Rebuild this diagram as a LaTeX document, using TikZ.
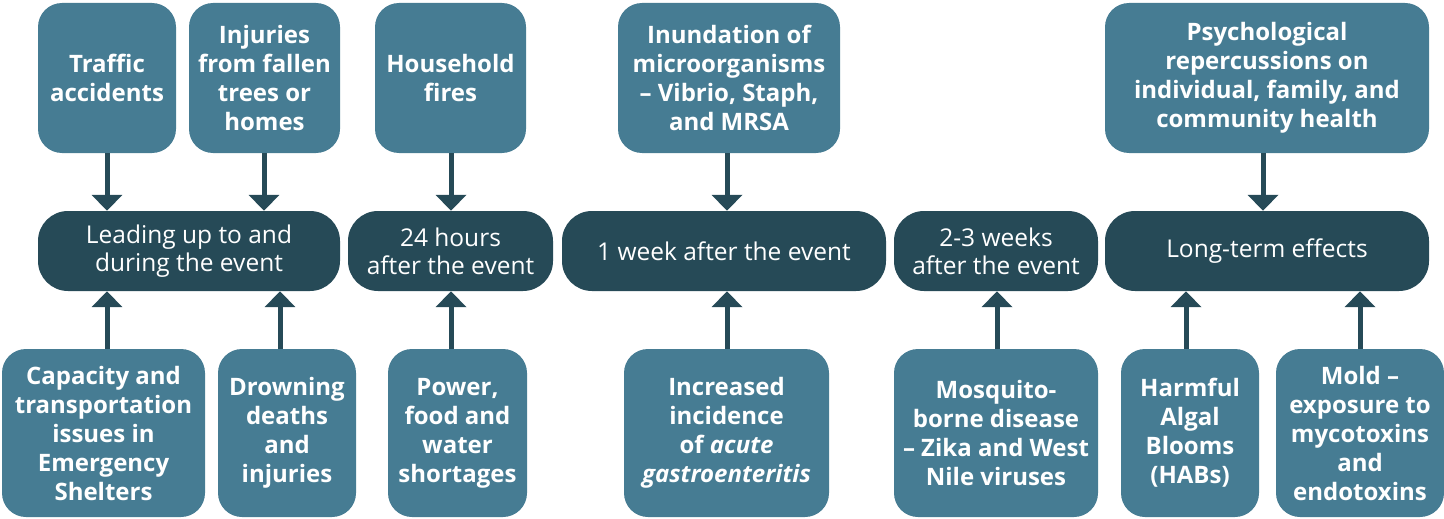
\documentclass[tikz,border=0pt]{standalone}
\usepackage{fontspec}
\setmainfont{Open Sans}
\usetikzlibrary{arrows.meta}
\definecolor{causefill}{RGB}{70,124,147}
\definecolor{phasefill}{RGB}{38,74,87}
\tikzset{
  cause/.style={fill=causefill, rounded corners=24pt, text=white, inner sep=0pt,
    align=center, font=\bfseries\fontsize{24}{29}\selectfont},
  phase/.style={fill=phasefill, rounded corners=30pt, text=white, inner sep=0pt,
    align=center, font=\fontsize{24.5}{28}\selectfont, minimum height=80pt},
  link/.style={draw=phasefill, line width=5pt,
    -{Triangle[width=30pt,length=16pt]}}
}
\begin{document}
\begin{tikzpicture}[x=1pt,y=-1pt]
\useasboundingbox (0,0) rectangle (1444,519);

% phases of the event
\node[phase, minimum width=302pt] (lead)  at (189,251)   {Leading up to and\\during the event};
\node[phase, minimum width=205pt] (day)   at (450.5,251) {24 hours\\after the event};
\node[phase, minimum width=324pt] (week)  at (724,251)   {1 week after the event};
\node[phase, minimum width=204pt] (weeks) at (996,251)   {2-3 weeks\\after the event};
\node[phase, minimum width=324pt] (long)  at (1267,251)  {Long-term effects};

% upper row of health effects
\node[cause, minimum width=138pt, minimum height=150pt] (traffic) at (107,78)   {Traffic\\accidents};
\node[cause, minimum width=151pt, minimum height=150pt] (trees)   at (264.5,78) {Injuries\\from fallen\\trees or\\homes};
\node[cause, minimum width=151pt, minimum height=150pt] (fires)   at (450.5,78) {Household\\fires};
\node[cause, minimum width=222pt, minimum height=150pt] (microbes) at (729,78)  {Inundation of\\microorganisms\\– Vibrio, Staph,\\and MRSA};
\node[cause, minimum width=324pt, minimum height=150pt] (psych)   at (1267,78)  {Psychological\\repercussions on\\individual, family, and\\community health};

% lower row of health effects
\node[cause, minimum width=203pt, minimum height=168pt] (shelter)  at (103.5,433) {Capacity and\\transportation\\issues in\\Emergency\\Shelters};
\node[cause, minimum width=138pt, minimum height=168pt] (drown)    at (287,433)   {Drowning\\deaths\\and\\injuries};
\node[cause, minimum width=139pt, minimum height=168pt] (supply)   at (457.5,433) {Power,\\food and\\water\\shortages};
\node[cause, minimum width=205pt, minimum height=168pt] (gastro)   at (726.5,433) {Increased\\incidence\\of \textit{acute}\\\textit{gastroenteritis}};
\node[cause, minimum width=204pt, minimum height=168pt] (mosquito) at (996,433)   {Mosquito-\\borne disease\\– Zika and West\\Nile viruses};
\node[cause, minimum width=138pt, minimum height=168pt] (algae)    at (1190,433)  {Harmful\\Algal\\Blooms\\(HABs)};
\node[cause, minimum width=168pt, minimum height=168pt] (mold)     at (1360,433)  {Mold –\\exposure to\\mycotoxins\\and\\endotoxins};

% arrow columns
\coordinate (c1) at (107,0);
\coordinate (c2) at (264,0);
\coordinate (c3) at (451,0);
\coordinate (c4) at (727,0);
\coordinate (c5) at (1263,0);
\coordinate (c6) at (280,0);
\coordinate (c7) at (997,0);
\coordinate (c8) at (1186,0);
\coordinate (c9) at (1360,0);

% arrows from the upper row
\draw[link] (traffic.south -| c1)  -- (lead.north -| c1);
\draw[link] (trees.south -| c2)    -- (lead.north -| c2);
\draw[link] (fires.south -| c3)    -- (day.north -| c3);
\draw[link] (microbes.south -| c4) -- (week.north -| c4);
\draw[link] (psych.south -| c5)    -- (long.north -| c5);

% arrows from the lower row
\draw[link] (shelter.north -| c1)  -- (lead.south -| c1);
\draw[link] (drown.north -| c6)    -- (lead.south -| c6);
\draw[link] (supply.north -| c3)   -- (day.south -| c3);
\draw[link] (gastro.north -| c4)   -- (week.south -| c4);
\draw[link] (mosquito.north -| c7) -- (weeks.south -| c7);
\draw[link] (algae.north -| c8)    -- (long.south -| c8);
\draw[link] (mold.north -| c9)     -- (long.south -| c9);
\end{tikzpicture}
\end{document}
